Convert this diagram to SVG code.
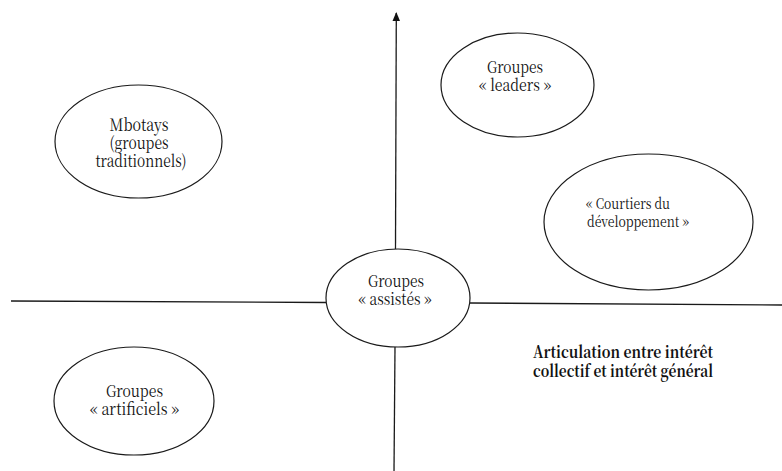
<svg xmlns="http://www.w3.org/2000/svg" width="782" height="471" viewBox="0 0 782 471">
  <style>
    .node { fill: #ffffff; stroke: #1a1a1a; stroke-width: 1.2; }
    .axis { stroke: #1a1a1a; stroke-width: 1.3; fill: none; }
    text { font-family: "Noto Serif CJK SC", "Liberation Serif", serif; fill: #111111; }
    .lbl { font-size: 16.5px; text-anchor: middle; }
    .big { font-size: 17px; text-anchor: middle; }
    .lblsm { font-size: 15px; }
    .bold { font-size: 16.5px; font-weight: bold; text-anchor: middle; }
  </style>
  <rect width="782" height="471" fill="#ffffff"/>

  <g id="connectors">
    <path class="axis" d="M395.5,249 L396.3,13"/>
    <path d="M392.5,21 L396.3,12 L400,21 Z" fill="#111111"/>
    <path class="axis" d="M395,347 L394,471"/>
    <path class="axis" d="M11,301 L326,302.5"/>
    <path class="axis" d="M470,303 L782,305"/>
  </g>

  <g id="mbotays">
    <ellipse class="node" cx="138.5" cy="141.5" rx="83.5" ry="56.5"/>
    <text class="big" x="139" y="131" textLength="59" lengthAdjust="spacingAndGlyphs">Mbotays</text>
    <text class="big" x="139" y="149" textLength="59" lengthAdjust="spacingAndGlyphs">(groupes</text>
    <text class="big" x="141" y="167" textLength="91" lengthAdjust="spacingAndGlyphs">traditionnels)</text>
  </g>

  <g id="leaders">
    <ellipse class="node" cx="517.5" cy="85" rx="76.5" ry="52"/>
    <text class="lbl" x="515" y="73" textLength="56" lengthAdjust="spacingAndGlyphs">Groupes</text>
    <text class="lbl" x="515" y="91" textLength="72" lengthAdjust="spacingAndGlyphs">« leaders »</text>
  </g>

  <g id="courtiers">
    <ellipse class="node" cx="648.5" cy="222" rx="104.5" ry="68"/>
    <text class="lblsm" x="586" y="209" textLength="84" lengthAdjust="spacingAndGlyphs">« Courtiers du</text>
    <text class="lblsm" x="587" y="227" textLength="102" lengthAdjust="spacingAndGlyphs">développement »</text>
  </g>

  <g id="assistes">
    <ellipse class="node" cx="398" cy="298" rx="72" ry="49"/>
    <text class="lbl" x="396" y="287" textLength="56" lengthAdjust="spacingAndGlyphs">Groupes</text>
    <text class="lbl" x="395" y="305" textLength="73" lengthAdjust="spacingAndGlyphs">« assistés »</text>
  </g>

  <g id="artificiels">
    <ellipse class="node" cx="134" cy="401" rx="80" ry="54"/>
    <text class="lbl" x="134.5" y="397" textLength="57" lengthAdjust="spacingAndGlyphs">Groupes</text>
    <text class="lbl" x="134.5" y="415" textLength="89" lengthAdjust="spacingAndGlyphs">« artificiels »</text>
  </g>

  <g id="caption">
    <text class="bold" x="623" y="358" textLength="180" lengthAdjust="spacingAndGlyphs">Articulation entre intérêt</text>
    <text class="bold" x="623" y="377" textLength="180" lengthAdjust="spacingAndGlyphs">collectif et intérêt général</text>
  </g>
</svg>
